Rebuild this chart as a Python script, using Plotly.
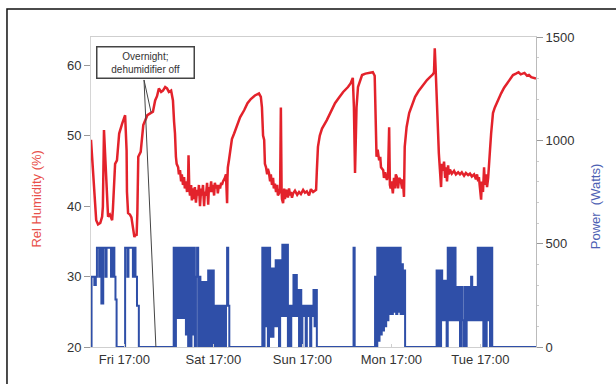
import plotly.graph_objects as go
import pandas as pd

START = pd.Timestamp("2010-01-08 08:00")  # a Friday morning
SPAN_HOURS = 120

# Relative humidity (%), hours since start
rh_hours = [0.0, 0.27, 0.9, 1.4, 1.9, 2.5, 3.0, 3.2, 3.5, 3.8, 4.0, 4.3, 4.6, 5.1, 5.7, 5.9, 6.2, 6.5, 7.0, 7.3,
            7.6, 8.4, 9.2, 9.6, 9.7, 10.0, 10.5, 10.9, 11.5, 11.7, 12.0, 12.3, 12.5, 12.75, 13.4, 13.75, 14.1, 15.2, 15.9, 16.7,
            17.3, 17.8, 18.3, 18.9, 19.4, 20.0, 20.5, 21.0, 21.6, 22.1, 22.4, 22.65, 22.9, 23.1, 23.5, 23.7, 24.0, 24.3, 24.5, 24.8,
            25.1, 25.3, 25.6, 25.9, 26.2, 26.3, 26.5, 26.7, 27.0, 27.2, 27.5, 27.8, 28.0, 28.3, 28.6, 28.9, 29.1, 29.4, 29.7, 29.9,
            30.2, 30.5, 30.7, 31.0, 31.3, 31.6, 31.8, 32.1, 32.4, 32.6, 32.9, 33.2, 33.4, 33.7, 34.0, 34.2, 34.5, 34.8, 35.1, 35.3,
            35.6, 35.9, 36.1, 36.4, 36.5, 36.7, 36.8, 36.9, 37.2, 37.5, 38.0, 38.6, 39.4, 40.2, 41.3, 42.2, 43.1, 44.2, 45.3, 45.8,
            46.1, 46.4, 46.7, 46.9, 47.2, 47.5, 47.7, 48.0, 48.3, 48.5, 48.8, 49.1, 49.3, 49.6, 49.9, 50.2, 50.4, 50.7, 51.0, 51.2,
            51.4, 51.5, 51.8, 52.1, 52.3, 52.6, 52.9, 53.1, 53.4, 53.7, 53.9, 54.2, 54.5, 55.0, 55.6, 56.1, 56.6, 57.2, 57.7, 58.2,
            58.8, 59.3, 59.9, 60.4, 60.7, 60.9, 61.2, 61.7, 62.3, 63.6, 64.7, 65.8, 66.9, 68.0, 69.3, 70.0, 70.6, 70.9, 71.2, 71.4,
            71.6, 72.0, 72.5, 73.1, 74.0, 75.0, 76.0, 76.5, 76.8, 77.0, 77.3, 77.7, 78.0, 78.2, 78.8, 79.0, 79.3, 79.8, 80.1, 80.4,
            80.6, 80.8, 81.0, 81.4, 81.7, 82.0, 82.2, 82.5, 82.8, 83.1, 83.5, 83.9, 84.1, 84.4, 84.6, 85.1, 85.8, 86.7, 87.4, 88.3,
            89.0, 89.8, 90.6, 91.4, 92.2, 92.5, 92.7, 92.9, 93.0, 93.3, 93.6, 93.8, 94.1, 94.4, 94.6, 94.9, 95.2, 95.5, 95.7, 96.0,
            96.3, 96.5, 96.8, 97.3, 97.9, 98.4, 99.0, 99.5, 100.0, 100.6, 101.1, 101.7, 102.2, 102.7, 103.3, 103.8, 104.1, 104.4, 104.6, 104.9,
            105.2, 105.4, 105.7, 106.0, 106.2, 106.5, 106.8, 107.1, 107.3, 107.6, 107.9, 108.1, 108.4, 108.9, 109.7, 110.6, 111.4, 112.2, 113.0, 113.8,
            114.6, 115.3, 115.9, 116.9, 117.6, 118.1, 118.7, 119.5, 120.0]
rh_values = [49.4, 47.0, 40.9, 38.0, 37.4, 37.6, 38.5, 39.9, 50.8, 47.5, 44.7, 40.5, 38.5, 38.8, 38.0, 39.5, 42.7, 46.0, 46.5, 48.0,
             50.3, 51.7, 52.9, 47.9, 42.0, 39.0, 38.8, 38.4, 36.2, 35.6, 36.0, 35.8, 39.0, 47.0, 47.7, 49.5, 51.5, 52.9, 53.1, 53.4,
             55.0, 55.6, 56.7, 56.2, 56.4, 56.9, 56.7, 56.2, 56.4, 55.0, 52.0, 50.3, 47.0, 46.0, 45.5, 44.5, 45.1, 43.5, 44.5, 43.0,
             44.1, 42.5, 43.5, 42.0, 44.0, 47.2, 42.5, 41.5, 43.0, 40.8, 42.5, 41.0, 42.7, 40.5, 42.3, 41.5, 43.0, 40.0, 42.5, 41.5,
             43.0, 40.0, 42.0, 41.5, 43.3, 40.2, 42.7, 42.0, 43.5, 42.0, 43.0, 41.5, 43.3, 42.5, 43.0, 41.8, 43.0, 42.5, 43.3, 43.0,
             43.5, 43.7, 44.0, 44.5, 42.0, 40.4, 44.0, 45.5, 46.5, 48.0, 49.5, 50.3, 51.5, 52.6, 53.6, 54.6, 55.2, 55.7, 56.0, 55.5,
             54.0, 50.0, 49.4, 46.0, 45.5, 44.5, 45.3, 44.7, 43.5, 44.5, 43.0, 44.0, 42.5, 43.2, 42.0, 43.0, 41.5, 41.8, 42.5, 54.0,
             42.0, 41.0, 40.4, 42.5, 41.0, 42.3, 42.0, 41.2, 42.5, 41.5, 42.0, 41.2, 41.8, 42.2, 41.6, 42.0, 41.7, 42.3, 41.9, 42.1,
             41.5, 42.4, 42.0, 42.2, 42.3, 45.0, 48.4, 50.0, 51.0, 52.2, 53.4, 54.6, 55.4, 56.2, 56.9, 57.4, 58.2, 54.0, 44.7, 50.0,
             54.0, 56.9, 57.8, 58.6, 58.8, 58.9, 59.0, 58.5, 52.0, 47.0, 48.0, 46.5, 47.0, 45.5, 45.1, 44.0, 44.8, 43.7, 44.5, 51.2,
             43.0, 42.5, 43.5, 41.8, 44.0, 42.5, 44.5, 44.1, 42.5, 44.0, 43.7, 42.5, 43.8, 41.3, 48.4, 51.2, 53.2, 54.5, 55.5, 56.3,
             56.8, 57.3, 57.9, 58.3, 58.7, 59.0, 62.4, 60.0, 58.9, 54.0, 50.3, 47.5, 45.5, 42.7, 46.0, 45.0, 46.3, 44.0, 45.5, 43.5,
             45.8, 44.5, 45.2, 44.6, 45.0, 44.5, 44.8, 44.5, 44.8, 44.3, 44.7, 44.4, 44.6, 44.2, 44.5, 43.8, 44.5, 43.5, 44.1, 42.5,
             40.9, 43.5, 42.0, 45.5, 43.0, 44.5, 42.7, 44.0, 46.5, 48.0, 50.3, 52.0, 53.2, 54.0, 55.0, 56.0, 56.8, 57.4, 58.0, 58.6,
             58.8, 59.0, 58.7, 58.9, 58.5, 58.6, 58.3, 58.2, 58.1]

# Dehumidifier power (W), hours since start (step changes)
pw_hours = [0.0, 0.15, 0.9, 1.3, 1.6, 2.2, 2.5, 2.8, 3.3, 3.9, 4.2, 5.4, 5.8, 6.3, 6.6, 6.9,
            9.2, 9.8, 10.1, 11.3, 11.7, 12.0, 12.4, 12.9,
            22.3, 22.6, 22.9, 23.2, 23.5, 23.8, 24.1, 24.4, 24.7, 25.0, 25.3, 25.6, 25.9, 26.2, 26.5, 26.8, 27.1, 27.4, 27.7, 28.0,
            28.3, 28.6, 28.9, 29.2, 29.5, 29.8, 30.1, 30.4, 30.7, 31.0, 31.3, 31.6, 31.9, 32.2, 32.5, 32.8, 33.1, 33.4, 33.7, 34.0,
            34.3, 34.6, 34.9, 35.2, 35.5, 35.8, 36.1, 36.4, 36.7, 37.0, 37.3,
            46.2, 46.5, 46.8, 47.1, 47.4, 47.7, 48.0, 48.3, 48.6, 48.9, 49.2, 49.5, 49.8, 50.1, 50.4, 50.7, 51.0, 51.3, 51.6, 51.9,
            52.2, 52.5, 52.8, 53.1, 53.4, 53.7, 54.0, 54.3, 54.6, 54.9, 55.2, 55.5, 55.8, 56.1, 56.4, 56.7, 57.0, 57.3, 57.6, 57.9,
            58.2, 58.5, 58.8, 59.1, 59.4, 59.7, 60.0, 60.3, 60.6, 60.9,
            70.8, 71.1,
            76.6, 76.9, 77.2, 77.5, 77.8, 78.1, 78.4, 78.7, 79.0, 79.3, 79.6, 79.9, 80.2, 80.5, 80.8, 81.1, 81.4, 81.7, 82.0, 82.3,
            82.6, 82.9, 83.2, 83.5, 83.8, 84.1, 84.4, 84.7,
            93.2, 93.5, 93.8, 94.1, 94.4, 94.7, 95.0, 95.3, 95.6, 95.9, 96.2, 96.5, 96.8, 97.1, 97.4, 97.7, 98.0, 98.3, 98.6, 98.9,
            99.2, 99.5, 99.8, 100.1, 100.4, 100.7, 101.0, 101.3, 101.6, 101.9, 102.2, 102.5, 102.8, 103.1, 103.4, 103.7, 104.0, 104.3, 104.6, 104.9,
            105.2, 105.5, 105.8, 106.1, 106.4, 106.7, 107.0, 107.3, 107.6, 107.9, 108.2,
            120.0]
pw_watts = [0, 340, 300, 340, 480, 340, 480, 210, 480, 340, 480, 340, 480, 340, 230, 0,
            480, 340, 480, 340, 480, 340, 200, 0,
            480, 0, 480, 140, 480, 140, 480, 140, 480, 140, 480, 60, 480, 0, 480, 0, 480, 60, 480, 0,
            340, 480, 0, 340, 0, 315, 0, 315, 0, 315, 0, 370, 0, 370, 0, 370, 0, 200, 0, 200,
            0, 200, 0, 200, 0, 200, 0, 200, 480, 200, 0,
            480, 0, 480, 100, 480, 0, 480, 50, 380, 50, 380, 100, 420, 100, 420, 0, 420, 150, 495, 150,
            495, 150, 495, 0, 200, 0, 200, 150, 348, 150, 348, 150, 276, 0, 276, 0, 200, 150, 200, 0,
            200, 150, 200, 0, 200, 150, 276, 100, 276, 0,
            480, 0,
            340, 0, 480, 30, 480, 60, 480, 80, 480, 100, 480, 130, 480, 160, 480, 160, 480, 170, 480, 160,
            480, 170, 480, 160, 400, 160, 370, 0,
            370, 0, 370, 0, 370, 130, 320, 130, 320, 0, 480, 130, 480, 130, 480, 130, 480, 130, 290, 130,
            290, 0, 290, 130, 0, 290, 0, 290, 130, 290, 130, 340, 130, 290, 130, 290, 130, 480, 130, 480,
            130, 480, 0, 480, 0, 480, 130, 480, 0, 480, 0,
            0]

tick_hours = [9, 33, 57, 81, 105]
tick_labels = ["Fri 17:00", "Sat 17:00", "Sun 17:00", "Mon 17:00", "Tue 17:00"]

# Callout: common origin (hours, %RH / W) and the two targets
callout_origin_hours = 14.3
callout_origin_rh = 57.9
callout_origin_w = 1292
callout_rh_target = (16.2, 53.3)
callout_pw_target = (17.5, 0)


def ts(h):
    return START + pd.Timedelta(hours=h)


RED = "#e3222b"
BLUE = "#2f4fa8"

fig = go.Figure()
fig.add_trace(go.Scatter(x=[ts(h) for h in rh_hours], y=rh_values, mode="lines",
                         line=dict(color=RED, width=2.5), yaxis="y", showlegend=False))
fig.add_trace(go.Scatter(x=[ts(h) for h in pw_hours], y=pw_watts, mode="lines",
                         line=dict(color=BLUE, width=2.0, shape="hv"), yaxis="y2", showlegend=False))

FONT = "Liberation Sans, Arial, sans-serif"
fig.update_layout(
    width=616, height=384,
    margin=dict(l=91, r=80, t=37, b=37),
    paper_bgcolor="white", plot_bgcolor="white",
    font=dict(family=FONT, size=13, color="#333"),
    xaxis=dict(type="date", range=[ts(0), ts(SPAN_HOURS)],
               tickvals=[ts(h) for h in tick_hours], ticktext=tick_labels,
               showgrid=False, zeroline=False, showline=True, linecolor="#cfcfcf", linewidth=1,
               mirror=True, ticks="inside", ticklen=3, tickcolor="#cfcfcf",
               tickfont=dict(size=13, color="#333")),
    yaxis=dict(range=[20, 64], tickvals=[20, 30, 40, 50, 60], showgrid=False, zeroline=False,
               showline=True, linecolor="#d5d5d5", ticks="outside", ticklen=6, tickcolor="#999",
               tickfont=dict(size=13, color="#333")),
    yaxis2=dict(range=[0, 1500], tickvals=[0, 500, 1000, 1500], overlaying="y", side="right",
                showgrid=False, zeroline=False, showline=True, linecolor="#bbb",
                ticks="outside", ticklen=6, tickcolor="#999",
                minor=dict(dtick=100, ticks="outside", ticklen=2, tickcolor="#ccc"),
                tickfont=dict(size=13, color="#333")),
)

# Callout lines
fig.add_shape(type="line", xref="x", yref="y", x0=ts(callout_origin_hours), y0=callout_origin_rh,
              x1=ts(callout_rh_target[0]), y1=callout_rh_target[1], line=dict(color="#444", width=1))
fig.add_shape(type="line", xref="x", yref="y2", x0=ts(callout_origin_hours), y0=callout_origin_w,
              x1=ts(callout_pw_target[0]), y1=callout_pw_target[1], line=dict(color="#444", width=1))

# Outer frame of the figure
fig.add_shape(type="rect", xref="paper", yref="paper", x0=-0.1888, x1=1.25, y0=-0.2, y1=1.090,
              line=dict(color="#111", width=1.5), layer="above")

fig.add_annotation(xref="paper", yref="paper", x=0.1225, y=0.919, xanchor="center", yanchor="middle",
                   text="Overnight;<br>dehumidifier off", showarrow=False,
                   font=dict(size=10, color="#333"), bgcolor="white", bordercolor="#444",
                   borderwidth=1.5, borderpad=3, width=90)
fig.add_annotation(xref="paper", yref="paper", x=-0.144, y=0.48, textangle=-90,
                   text="Rel Humidity (%)", showarrow=False, font=dict(size=13, color="#e8504a"))
fig.add_annotation(xref="paper", yref="paper", x=1.157, y=0.452, textangle=-90,
                   text="Power  (Watts)", showarrow=False, font=dict(size=13, color="#4d60b3"))

fig.write_html("out.html")
